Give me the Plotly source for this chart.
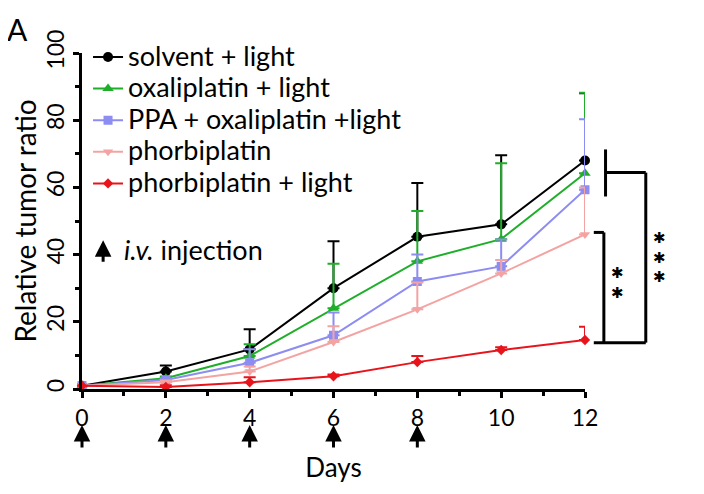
import plotly.graph_objects as go

days = [0, 2, 4, 6, 8, 10, 12]
injection_days = [0, 2, 4, 6, 8]

solvent_light = [1, 5.2, 11.8, 30, 45.3, 49, 68]
solvent_light_err = [0, 1.8, 6, 14, 16, 20.6, 20]
oxali_light = [1, 3.2, 9.8, 24, 38, 44.6, 64.2]
oxali_light_err = [0, 0.5, 3.5, 13.3, 15, 22.6, 24]
ppa_oxali_light = [1, 2.7, 7.8, 16, 32, 36.5, 59.3]
ppa_oxali_light_err = [0, 0.5, 4, 6.8, 8, 8, 21]
phorbi = [1, 2.0, 5.2, 14, 23.7, 34.4, 46]
phorbi_err = [0, 0.5, 1.5, 4.7, 8, 4, 14]
phorbi_light = [1, 0.6, 2, 3.8, 8, 11.6, 14.6]
phorbi_light_err = [0, 0.5, 1.5, 0.5, 1.8, 0.8, 3.9]

FONT = "Lato"

series = [
    ("solvent + light", solvent_light, solvent_light_err, "#000000", "circle", 10),
    ("oxaliplatin + light", oxali_light, oxali_light_err, "#1fae2a", "triangle-up", 10),
    ("PPA + oxaliplatin +light", ppa_oxali_light, ppa_oxali_light_err, "#8c8cf2", "square", 9),
    ("phorbiplatin", phorbi, phorbi_err, "#f4a3a3", "triangle-down", 9),
    ("phorbiplatin + light", phorbi_light, phorbi_light_err, "#e8141c", "diamond", 8),
]

fig = go.Figure()
for name, vals, err, color, symbol, size in series:
    fig.add_trace(go.Scatter(
        x=days, y=vals, mode="lines+markers",
        name='<span style="font-size:27px">' + name + '</span>',
        line=dict(color=color, width=2),
        marker=dict(color=color, symbol=symbol, size=size),
        error_y=dict(type="data", symmetric=False, array=err,
                     arrayminus=[0] * len(err), color=color,
                     thickness=2, width=6),
        cliponaxis=False,
    ))

arrow = dict(text="", showarrow=True, arrowhead=2, arrowsize=1.1,
             arrowwidth=3, arrowcolor="black", ax=0)

# injection arrows under the x axis
annotations = []
for d in injection_days:
    annotations.append(dict(arrow, x=d, y=0, xref="x", yref="y", ay=24, yshift=-36))

# legend note for the arrows
annotations.append(dict(arrow, x=0.042, y=0.443, xref="paper", yref="paper", ay=23))
annotations.append(dict(
    x=0.0795, y=0.415, xref="paper", yref="paper", xanchor="left", yanchor="middle",
    text="<i>i.v.</i> injection", showarrow=False,
    font=dict(family=FONT, size=27, color="black"),
))

# significance stars
annotations.append(dict(
    x=1.064, y=0.315, xref="paper", yref="paper", text="✱<br>✱",
    showarrow=False, xanchor="center", yanchor="middle",
    font=dict(family="DejaVu Sans", size=15, color="black"),
))
annotations.append(dict(
    x=1.149, y=0.39, xref="paper", yref="paper", text="✱<br>✱<br>✱",
    showarrow=False, xanchor="center", yanchor="middle",
    font=dict(family="DejaVu Sans", size=15, color="black"),
))

# panel label
annotations.append(dict(
    x=-0.153, y=1.132, xref="paper", yref="paper", text="A", showarrow=False,
    xanchor="left", yanchor="top",
    font=dict(family=FONT, size=30, color="black"),
))

line_style = dict(color="black", width=3)


def seg(x0, x1, y0, y1):
    # bracket segment, x in days, y in ratio units, drawn in paper space
    return dict(type="line", xref="paper", yref="paper",
                x0=x0 / 12, x1=x1 / 12, y0=y0 / 100, y1=y1 / 100, line=line_style)


shapes = [
    seg(12.49, 12.49, 57.3, 71.3),
    seg(12.49, 13.45, 64.4, 64.4),
    seg(13.45, 13.45, 13.8, 64.4),
    seg(12.21, 13.45, 13.8, 13.8),
    seg(12.21, 12.45, 46.6, 46.6),
    seg(12.45, 12.45, 13.8, 46.6),
]

# the page adds an 8px body margin, so the figure is 8px smaller than the window
fig.update_layout(
    width=696, height=486,
    margin=dict(l=74, r=119, t=45, b=105),
    paper_bgcolor="white", plot_bgcolor="white",
    font=dict(family=FONT, size=22, color="black"),
    showlegend=True,
    legend=dict(
        x=0.012, y=1.05, xanchor="left", yanchor="top",
        bgcolor="rgba(0,0,0,0)", itemwidth=30,
        font=dict(family=FONT, size=22, color="black"),
        tracegroupgap=0,
    ),
    annotations=annotations,
    shapes=shapes,
)

fig.update_xaxes(
    range=[0, 12], tickmode="array", tickvals=days, automargin=False,
    showline=True, linecolor="black", linewidth=3,
    ticks="outside", ticklen=6, tickwidth=3, tickcolor="black",
    minor=dict(dtick=1, ticks="outside", ticklen=4, tickwidth=3, tickcolor="black"),
    showgrid=False, zeroline=False,
    tickfont=dict(family=FONT, size=23),
    title=dict(text="Days", font=dict(family=FONT, size=26), standoff=30),
)
fig.update_yaxes(
    range=[0, 100], dtick=20, tickangle=-90, automargin=False,
    showline=True, linecolor="black", linewidth=3,
    ticks="outside", ticklen=6, tickwidth=3, tickcolor="black",
    minor=dict(dtick=10, ticks="outside", ticklen=4, tickwidth=3, tickcolor="black"),
    showgrid=False, zeroline=False,
    tickfont=dict(family=FONT, size=23),
    title=dict(text="Relative tumor ratio", font=dict(family=FONT, size=28), standoff=4),
)

fig.write_html("out.html")
